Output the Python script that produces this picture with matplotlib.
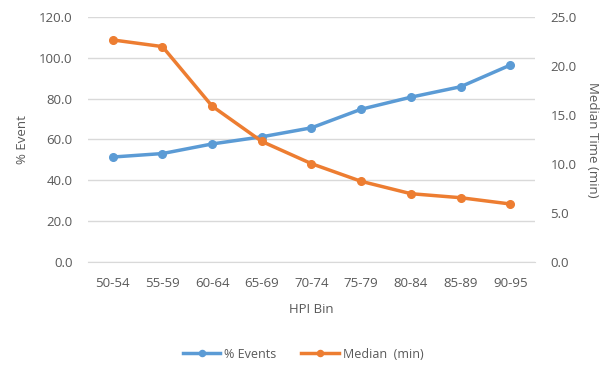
import matplotlib.pyplot as plt
from matplotlib.ticker import FormatStrFormatter

# HPI bins and the two series
bins = ["50-54", "55-59", "60-64", "65-69", "70-74", "75-79", "80-84", "85-89", "90-95"]
pct_events = [51.4, 53.1, 57.8, 61.3, 65.7, 74.8, 80.7, 85.8, 96.4]
median_min = [22.65, 21.97, 15.9, 12.3, 10.03, 8.23, 6.97, 6.56, 5.92]

blue = "#5B9BD5"
orange = "#ED7D31"
txt = "#595959"
grid = "#D9D9D9"

plt.rcParams["font.family"] = ["Open Sans", "DejaVu Sans"]

fig = plt.figure(figsize=(6.06, 3.67), dpi=100)
ax = fig.add_axes([0.145, 0.286, 0.738, 0.668])
ax2 = ax.twinx()

x = range(len(bins))
l1, = ax.plot(x, pct_events, color=blue, lw=2.5, marker="o", ms=5.5, label="% Events", zorder=3)
l2, = ax2.plot(x, median_min, color=orange, lw=2.5, marker="o", ms=5.5, label="Median  (min)", zorder=3)

ax.set_ylim(0, 120)
ax.set_yticks(range(0, 121, 20))
ax2.set_ylim(0, 25)
ax2.set_yticks(range(0, 26, 5))
ax.yaxis.set_major_formatter(FormatStrFormatter("%.1f"))
ax2.yaxis.set_major_formatter(FormatStrFormatter("%.1f"))
ax.set_xlim(-0.5, len(bins) - 0.5)
ax.set_xticks(list(x))
ax.set_xticklabels(bins)

ax.grid(axis="y", color=grid, lw=1)
ax.set_axisbelow(True)
for a in (ax, ax2):
    for s in a.spines.values():
        s.set_visible(False)
    a.tick_params(length=0, colors=txt, labelsize=9.5)
ax.tick_params(axis="y", pad=11)
ax2.tick_params(axis="y", pad=11)
ax.tick_params(axis="x", pad=11)
ax.spines["bottom"].set_visible(True)
ax.spines["bottom"].set_color(grid)

ax.set_xlabel("HPI Bin", color=txt, fontsize=9.5, labelpad=9)
ax.set_ylabel("% Event", color=txt, fontsize=9.5, labelpad=7)
ax2.set_ylabel("Median Time (min)", color=txt, fontsize=9.5, rotation=270, labelpad=16)

fig.legend(handles=[l1, l2], loc="center", bbox_to_anchor=(0.5, 0.035), ncol=2,
           frameon=False, fontsize=9, labelcolor=txt, handlelength=3, handletextpad=0.3,
           columnspacing=2, markerscale=0.8)

fig.savefig("out.png", dpi=100)
